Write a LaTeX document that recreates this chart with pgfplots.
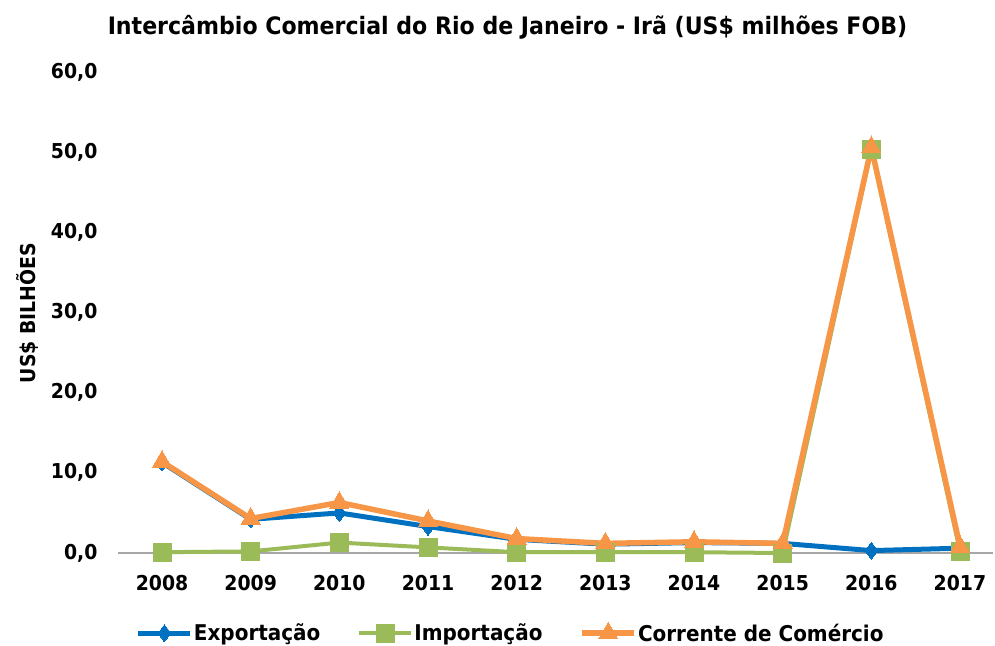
\documentclass[border=0pt]{standalone}
\usepackage{pgfplots}
\pgfplotsset{compat=1.18}
\usepackage{fontspec}
\setmainfont{DejaVu Sans}[FakeStretch=0.92]
\definecolor{cexp}{HTML}{0070C0}
\definecolor{cimp}{HTML}{9BBB59}
\definecolor{ccor}{HTML}{F79646}
\begin{document}
\begin{tikzpicture}[x=1pt,y=1pt]
\path[use as bounding box] (0,0) rectangle (995,-645);
\begin{axis}[
  at={(117.7pt,-553pt)}, anchor=south west,
  scale only axis, width=875.3pt, height=481pt,
  xmin=2007.5, xmax=2017.372, ymin=0, ymax=60,
  axis line style={draw=none},
  xtick={2008,...,2017}, ytick={0,10,...,60},
  major tick length=0pt,
  xticklabel={\pgfmathprintnumber[1000 sep={}]{\tick}},
  /pgf/number format/assume math mode=true,
  yticklabel={\pgfmathprintnumber[fixed,fixed zerofill,precision=1,use comma]{\tick}},
  ticklabel style={font=\fontsize{20.5}{24}\selectfont\bfseries, inner sep=0pt},
  yticklabel style={anchor=east, xshift=-20pt},
  xticklabel style={anchor=north, yshift=-22pt},
  clip=false,
  legend style={draw=none, at={(0.4485,-0.166)}, anchor=center,
    font=\fontsize{21.7}{26}\selectfont\bfseries, legend columns=3,
    nodes={inner sep=1pt},
    /tikz/every even column/.append style={column sep=36pt},
    inner sep=0pt},
  legend cell align=left,
  legend image code/.code={\draw[mark repeat=2,mark phase=2,#1] plot coordinates {(0pt,0pt) (26pt,0pt) (52pt,0pt)};},
]
\draw[gray!70, line width=1.2pt] (axis cs:2007.5,0) -- (axis cs:2017.372,0);
\addplot[cexp, line width=5pt, mark=diamond*, mark size=8.5pt, mark options={fill=cexp, draw=cexp, line width=0pt}]
 coordinates {(2008,11.3) (2009,4.2) (2010,5.0) (2011,3.3) (2012,1.7) (2013,1.1) (2014,1.3) (2015,1.2) (2016,0.3) (2017,0.6)};
\addlegendentry{Exportação}
\addplot[cimp, line width=4pt, mark=square*, mark size=9pt, mark options={fill=cimp, draw=cimp, line width=0pt}]
 coordinates {(2008,0.1) (2009,0.2) (2010,1.3) (2011,0.7) (2012,0.1) (2013,0.1) (2014,0.1) (2015,0.0) (2016,50.3) (2017,0.2)};
\addlegendentry{Importação}
\addplot[ccor, line width=5.5pt, mark=triangle*, mark size=11pt, mark options={fill=ccor, draw=ccor, line width=0pt}]
 coordinates {(2008,11.4) (2009,4.3) (2010,6.3) (2011,4.0) (2012,1.8) (2013,1.2) (2014,1.4) (2015,1.2) (2016,50.6) (2017,0.8)};
\addlegendentry{Corrente de Comércio}
\end{axis}
\node[font=\fontsize{24}{28}\selectfont\bfseries] at (507.5,-27) {Intercâmbio Comercial do Rio de Janeiro - Irã (US\$ milhões FOB)};
\node[font=\fontsize{20.5}{24}\selectfont\bfseries, rotate=90] at (27,-313) {US\$ BILHÕES};
\end{tikzpicture}
\end{document}
